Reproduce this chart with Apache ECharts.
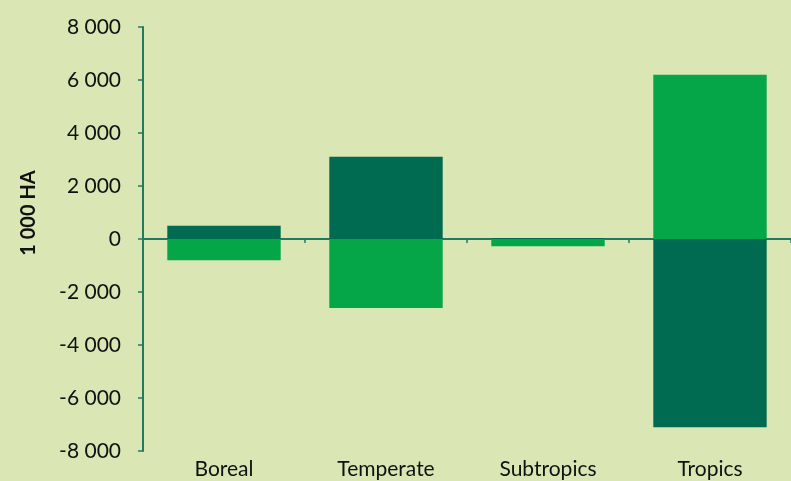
<!DOCTYPE html>
<html>
<head>
<meta charset="utf-8">
<script src="https://cdn.jsdelivr.net/npm/echarts@6/dist/echarts.min.js"></script>
<style>
  html, body { margin: 0; padding: 0; background: #dae6b3; }
  #chart { width: 791px; height: 481px; }
</style>
</head>
<body>
<div id="chart"></div>
<script>
var categories = ['Boreal', 'Temperate', 'Subtropics', 'Tropics'];
var darkValues = [500, 3100, 40, -7100];
var lightValues = [-800, -2600, -270, 6200];
var yTicks = [-8000, 8000, 2000]; // min, max, interval

var axisColor = '#237a5c';
var myChart = echarts.init(document.getElementById('chart'));
var option = {
    backgroundColor: '#dae6b3',
    textStyle: { fontFamily: 'Lato' },
    animation: false,
    grid: {
        left: 143,
        right: 0,
        top: 27,
        bottom: 30,
        containLabel: false
    },
    xAxis: [{
        type: 'category',
        data: categories,
        axisLine: { show: false, onZero: false },
        axisTick: { show: false },
        axisLabel: {
            color: '#111',
            fontSize: 21,
            margin: 8
        }
    }, {
        type: 'category',
        position: 'bottom',
        data: categories,
        axisLine: { show: true, onZero: true, lineStyle: { color: axisColor, width: 2 } },
        axisTick: { show: true, length: 4, lineStyle: { color: axisColor, width: 1.5 } },
        axisLabel: { show: false }
    }],
    yAxis: {
        type: 'value',
        min: yTicks[0],
        max: yTicks[1],
        interval: yTicks[2],
        name: '1 000 HA',
        nameLocation: 'middle',
        nameRotate: 90,
        nameGap: 104,
        nameTextStyle: {
            color: '#111',
            fontSize: 20,
            fontWeight: 'bold',
            fontFamily: 'Lato',
            padding: [0, 0, 0, 52]
        },
        splitLine: { show: false },
        axisLine: { show: true, lineStyle: { color: axisColor, width: 2 } },
        axisTick: { show: true, length: 5, lineStyle: { color: axisColor, width: 1.5 } },
        axisLabel: {
            color: '#111',
            fontSize: 21,
            margin: 22,
            formatter: function (v) {
                var s = String(Math.abs(v)).replace(/\B(?=(\d{3})+(?!\d))/g, ' ');
                return (v < 0 ? '-' : '') + s;
            }
        }
    },
    series: [{
        name: 'dark',
        type: 'bar',
        stack: 'total',
        barCategoryGap: '30%',
        itemStyle: { color: '#006b50' },
        data: darkValues
    }, {
        name: 'light',
        type: 'bar',
        stack: 'total',
        barCategoryGap: '30%',
        itemStyle: { color: '#04a648' },
        data: lightValues
    }]
};
myChart.setOption(option);
</script>
</body>
</html>
